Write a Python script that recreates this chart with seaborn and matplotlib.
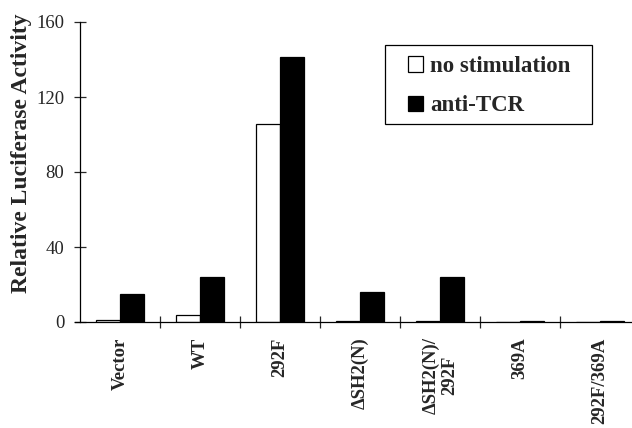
import numpy as np
import pandas as pd
import matplotlib
matplotlib.use('Agg')
import matplotlib.pyplot as plt
import matplotlib.patches as mpatches
import seaborn as sns

# Datos
constructs = ['Vector', 'WT', '292F', '\u0394SH2(N)', '\u0394SH2(N)/\n292F', '369A', '292F/369A']
no_stim = [1.0, 3.7, 105.5, 0.8, 0.5, 0.0, 0.0]
anti_tcr = [15.0, 24.0, 141.5, 16.0, 24.0, 0.5, 0.6]
conditions = ['no stimulation', 'anti-TCR']

df = pd.DataFrame({
    'Construct': constructs * 2,
    'Condition': [conditions[0]] * len(constructs) + [conditions[1]] * len(constructs),
    'Activity': no_stim + anti_tcr,
})

sns.set_style('ticks')
plt.rcParams['font.family'] = ['Liberation Serif', 'DejaVu Serif']

fig = plt.figure(figsize=(6.32, 4.28), dpi=100)
ax = fig.add_axes([75 / 632, 1 - 322 / 428, 1 - 75 / 632, 300 / 428])

sns.barplot(data=df, x='Construct', y='Activity', hue='Condition',
            order=constructs, hue_order=conditions,
            palette={'no stimulation': 'white', 'anti-TCR': 'black'},
            edgecolor='black', linewidth=0.9, width=0.6, ax=ax)

ax.set_ylim(0, 160)
ax.set_xlim(-0.5625, 6.4)
ax.set_yticks([0, 40, 80, 120, 160])
ax.tick_params(axis='y', direction='inout', length=8.6, width=0.9, labelsize=13.5, pad=7)
ax.tick_params(axis='x', which='major', length=0, labelsize=13.5, pad=11)
ax.set_xticks(np.arange(0.5, 6.0, 1.0), minor=True)
ax.tick_params(axis='x', which='minor', direction='inout', length=8.6, width=0.9)
for lab in ax.get_xticklabels():
    lab.set_rotation(90)
    lab.set_fontweight('bold')
    lab.set_va('top')
    lab.set_ha('center')
    lab.set_linespacing(1.1)

sns.despine(ax=ax)
ax.spines['left'].set_position(('data', -0.5))
ax.spines['left'].set_bounds(0, 160)
for s in ['left', 'bottom']:
    ax.spines[s].set_linewidth(0.9)
    ax.spines[s].set_color('black')

ax.set_xlabel('')
ax.set_ylabel('Relative Luciferase Activity', fontsize=17, fontweight='bold')
ax.yaxis.set_label_coords((32 - 75) / 557, (322 - 153) / 300)

# Leyenda sin marco + recuadro aparte
handles, labels = ax.get_legend_handles_labels()
leg = ax.legend(handles, labels, loc='upper left',
                bbox_to_anchor=(408 / 632, 1 - 56 / 428),
                bbox_transform=fig.transFigure,
                prop={'size': 16.5, 'weight': 'bold'},
                handlelength=0.65, handleheight=0.65, handletextpad=0.3,
                labelspacing=0.8, borderpad=0, borderaxespad=0,
                frameon=False)
box = mpatches.Rectangle((385 / 632, 1 - 124 / 428), 207 / 632, 79 / 428,
                         transform=fig.transFigure, fill=False,
                         edgecolor='black', linewidth=0.9)
fig.add_artist(box)

fig.savefig('out.png', dpi=100)
